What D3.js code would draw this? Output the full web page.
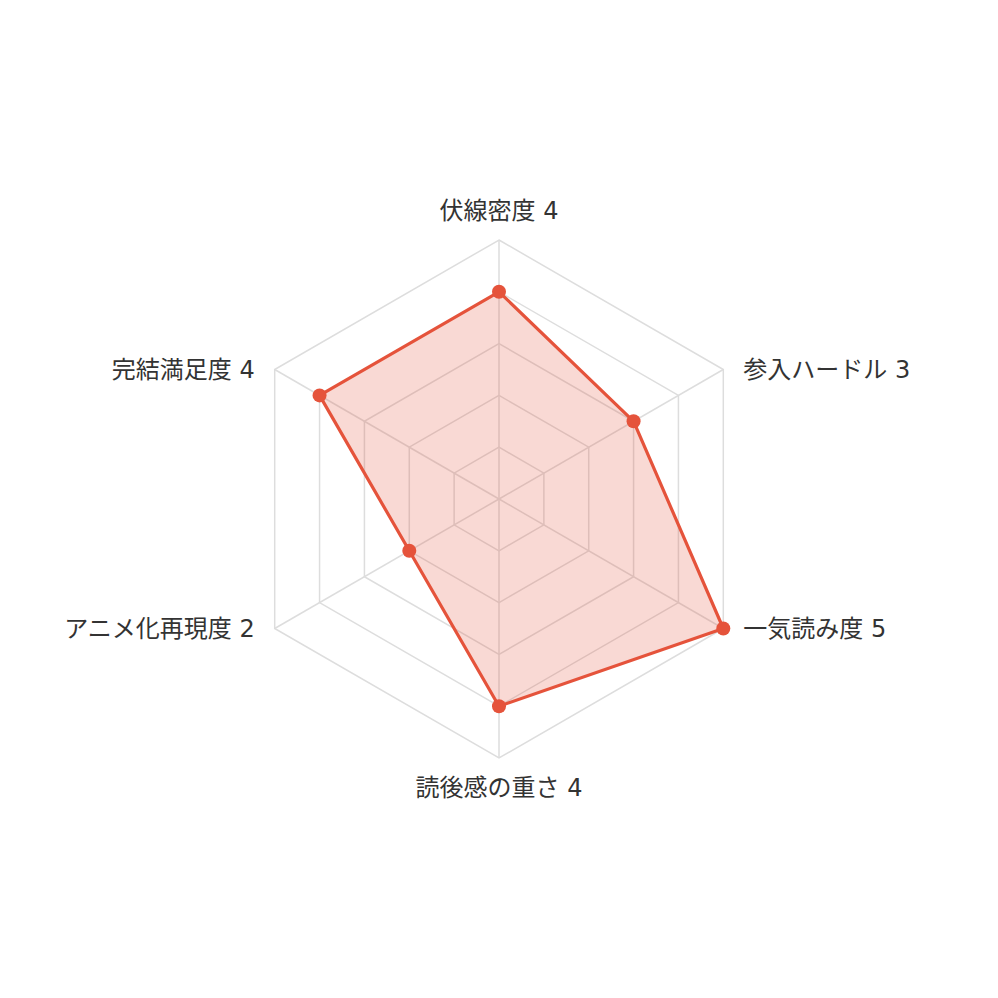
<!DOCTYPE html>
<html><head><meta charset="utf-8">
<script src="https://cdn.jsdelivr.net/npm/d3@7"></script>
<style>html,body{margin:0;padding:0;background:#fff}</style>
</head><body>
<svg id="c" width="998" height="998"></svg>
<script>
const categories = ["伏線密度", "参入ハードル", "一気読み度", "読後感の重さ", "アニメ化再現度", "完結満足度"];
const values = [4, 3, 5, 4, 2, 4];
const levels = [1, 2, 3, 4, 5];
const maxValue = 5;

const svg = d3.select("#c");
const cx = 499, cy = 499, R = 259;
const n = categories.length;
const r = d3.scaleLinear().domain([0, maxValue]).range([0, R]);
const ang = i => -Math.PI / 2 + i * 2 * Math.PI / n;
const pt = (i, v) => [cx + r(v) * Math.cos(ang(i)), cy + r(v) * Math.sin(ang(i))];

const g = svg.append("g");
levels.forEach(l => {
  g.append("polygon")
    .attr("points", d3.range(n).map(i => pt(i, l).join(",")).join(" "))
    .attr("fill", "none").attr("stroke", "#dddddd").attr("stroke-width", 1.5);
});
d3.range(n).forEach(i => {
  const [x, y] = pt(i, maxValue);
  g.append("line").attr("x1", cx).attr("y1", cy).attr("x2", x).attr("y2", y)
    .attr("stroke", "#dddddd").attr("stroke-width", 1.5);
});
const line = d3.line().curve(d3.curveLinearClosed);
const pts = values.map((v, i) => pt(i, v));
g.append("path").attr("d", line(pts))
  .attr("fill", "#e5533b").attr("fill-opacity", 0.22)
  .attr("stroke", "#e5533b").attr("stroke-width", 3.2).attr("stroke-linejoin", "round");
g.selectAll("circle.pt").data(values).enter().append("circle")
  .attr("cx", (v, i) => pt(i, v)[0]).attr("cy", (v, i) => pt(i, v)[1])
  .attr("r", 7).attr("fill", "#e5533b");
categories.forEach((c, i) => {
  const [x, y] = pt(i, maxValue);
  const cs = Math.cos(ang(i)), sn = Math.sin(ang(i));
  let tx = x, ty = y, anchor = "middle";
  if (Math.abs(cs) < 0.01) { ty = y + (sn < 0 ? -29 : 30); }
  else if (cs > 0) { tx = x + 20; anchor = "start"; }
  else { tx = x - 20; anchor = "end"; }
  g.append("text").attr("x", tx).attr("y", ty)
    .attr("text-anchor", anchor).attr("dominant-baseline", "central")
    .attr("font-family", "'DejaVu Sans', 'Noto Sans CJK JP', sans-serif")
    .attr("font-size", 24).attr("fill", "#333333")
    .text(c + " " + values[i]);
});
</script>
</body></html>
